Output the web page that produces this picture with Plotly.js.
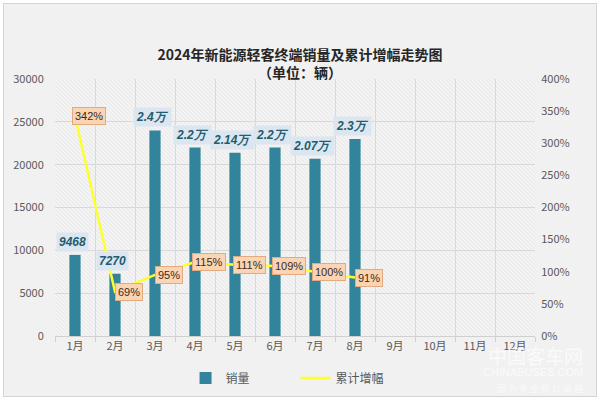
<!DOCTYPE html>
<html>
<head>
<meta charset="utf-8">
<script src="https://cdn.plot.ly/plotly-3.0.1.min.js"></script>
<style>
  html, body { margin: 0; padding: 0; background: #ffffff; }
  #wrap { position: relative; width: 600px; height: 400px; background: #ffffff; }
  #frame { position: absolute; left: 3px; top: 3px; width: 592px; height: 392px; border: 1px solid #d4d4d4; }
  #chart { width: 592px; height: 392px; }
</style>
</head>
<body>
<div id="wrap"><div id="frame"><div id="chart"></div></div></div>
<script>
// ---- data ----
const months = ['1月','2月','3月','4月','5月','6月','7月','8月','9月','10月','11月','12月'];
const salesMonths = ['1月','2月','3月','4月','5月','6月','7月','8月'];
const sales = [9468, 7270, 24000, 22000, 21400, 22000, 20700, 23000];
const salesLabels = ['9468','7270','2.4万','2.2万','2.14万','2.2万','2.07万','2.3万'];
const growth = [342, 69, 95, 115, 111, 109, 100, 91];
const growthLabels = ['342%','69%','95%','115%','111%','109%','100%','91%'];
const leftTicks = [0, 5000, 10000, 15000, 20000, 25000, 30000];
const leftTickText = ['0','5000','10000','15000','20000','25000','30000'];
const rightTicks = [0, 50, 100, 150, 200, 250, 300, 350, 400];
const rightTickText = ['0%','50%','100%','150%','200%','250%','300%','350%','400%'];
const watermark = ['中国客车网', 'CHINABUSES.COM', '因 为 专 业 所 以 卓 越'];

// ---- hatch background (svg data uri, no network) ----
const hatchSvg = "<svg xmlns='http://www.w3.org/2000/svg' width='480' height='257'>" +
  "<defs><pattern id='p' width='4' height='4' patternUnits='userSpaceOnUse'>" +
  "<rect width='4' height='4' fill='#ececec'/>" +
  "<path d='M-1,-1 L5,5 M-1,3 L1,5 M3,-1 L5,1' stroke='#f8f8f8' stroke-width='1.2'/>" +
  "</pattern></defs><rect width='480' height='257' fill='url(#p)'/></svg>";
const hatchUri = 'data:image/svg+xml;charset=utf-8,' + encodeURIComponent(hatchSvg);

const barTrace = {
  type: 'bar',
  name: '销量',
  x: salesMonths,
  y: sales,
  marker: { color: '#31849b' },
  yaxis: 'y',
  hoverinfo: 'skip'
};
const lineTrace = {
  type: 'scatter',
  mode: 'lines',
  name: '累计增幅',
  x: salesMonths,
  y: growth,
  line: { color: '#ffff2e', width: 2.5 },
  yaxis: 'y2',
  hoverinfo: 'skip'
};

const annotations = [];
salesMonths.forEach((m, i) => {
  annotations.push({
    x: m, y: sales[i], xref: 'x', yref: 'y',
    text: '<b><i>' + salesLabels[i] + '</i></b>',
    showarrow: false, yanchor: 'middle', yshift: 13, xshift: -3,
    font: { family: 'Liberation Sans, Arial, sans-serif', size: 12, color: '#215d6e' },
    bgcolor: '#dce6f1', borderpad: 2
  });
});
salesMonths.forEach((m, i) => {
  annotations.push({
    x: m, y: growth[i], xref: 'x', yref: 'y2',
    text: growthLabels[i],
    showarrow: false, xshift: 14, yanchor: 'middle',
    font: { family: 'Liberation Sans, Arial, sans-serif', size: 11, color: '#3b2a1c' },
    bgcolor: '#fbd4b4', bordercolor: '#e3a97f', borderwidth: 1, borderpad: 2
  });
});
// faint watermark
const wmY = [-0.074, -0.142, -0.204];
const wmSize = [19, 11, 9];
watermark.forEach((t, i) => {
  annotations.push({ xref: 'paper', yref: 'paper', x: 1.105, y: wmY[i], xanchor: 'right', yanchor: 'middle',
    text: t, showarrow: false,
    font: { family: i === 1 ? 'Liberation Sans' : 'Noto Sans CJK SC', size: wmSize[i], color: 'rgba(255,255,255,0.7)' } });
});

const tickFont = { family: 'Noto Sans CJK SC, Liberation Sans, sans-serif', size: 11, color: '#595959' };

const layout = {
  width: 592, height: 392,
  margin: { l: 51, r: 61, t: 75, b: 60 },
  paper_bgcolor: '#f1f1f1',
  plot_bgcolor: 'rgba(0,0,0,0)',
  title: {
    text: '<b>2024年新能源轻客终端销量及累计增幅走势图<br>（单位：辆）</b>',
    x: 0.5, xanchor: 'center', y: 0.858, yanchor: 'middle', yref: 'container',
    font: { family: 'Noto Sans CJK SC', size: 14, color: '#262626' }
  },
  xaxis: {
    type: 'category',
    categoryorder: 'array', categoryarray: months,
    range: [-0.5, 11.5],
    tickson: 'boundaries',
    ticks: 'outside', ticklen: 5, tickcolor: '#d0d0d0',
    showgrid: true, gridcolor: '#d9d9d9', gridwidth: 1,
    showline: true, linecolor: '#d0d0d0',
    tickfont: tickFont,
    fixedrange: true
  },
  yaxis: {
    range: [0, 30000],
    tickvals: leftTicks, ticktext: leftTickText,
    showgrid: true, gridcolor: '#d9d9d9', gridwidth: 1,
    zeroline: false,
    tickfont: tickFont,
    ticklen: 8, ticks: 'outside', tickcolor: 'rgba(0,0,0,0)',
    fixedrange: true
  },
  yaxis2: {
    overlaying: 'y', side: 'right',
    range: [0, 400],
    tickvals: rightTicks, ticktext: rightTickText,
    showgrid: false, zeroline: false,
    tickfont: tickFont,
    ticklen: 3, ticks: 'outside', tickcolor: 'rgba(0,0,0,0)',
    fixedrange: true
  },
  bargap: 0.72,
  showlegend: true,
  legend: {
    orientation: 'h',
    x: 0.272, xanchor: 'left',
    y: 0.046, yref: 'container', yanchor: 'middle',
    font: { family: 'Noto Sans CJK SC', size: 12, color: '#595959' },
    entrywidth: 65,
    bgcolor: 'rgba(0,0,0,0)'
  },
  images: [{
    source: hatchUri,
    xref: 'paper', yref: 'paper',
    x: 0, y: 1, sizex: 1, sizey: 1,
    xanchor: 'left', yanchor: 'top',
    sizing: 'stretch', layer: 'below'
  }],
  annotations: annotations
};

Plotly.newPlot('chart', [barTrace, lineTrace], layout, { displayModeBar: false, staticPlot: true });
</script>
</body>
</html>
